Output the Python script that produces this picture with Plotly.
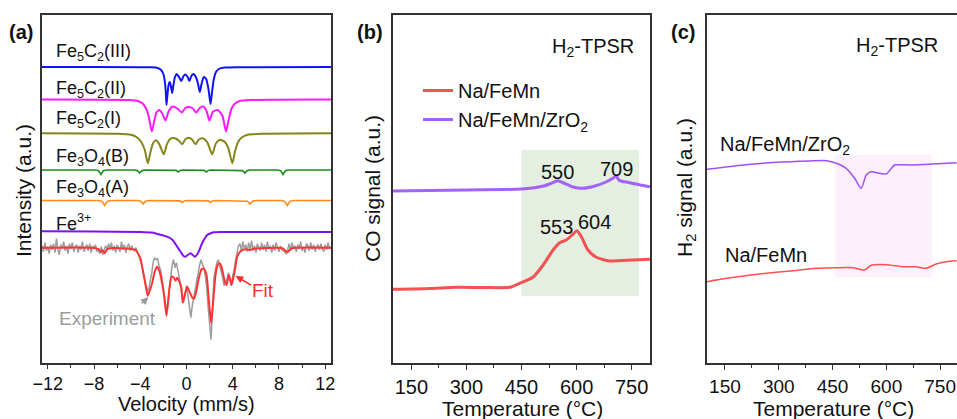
import plotly.graph_objects as go

FONT = "Liberation Sans, Arial, sans-serif"

# ---------------- Panel (a): Mossbauer spectrum ----------------
# offsets of each stacked sub-spectrum (a.u.)
off_blue, off_mag, off_olive, off_green, off_orange, off_purple, off_fit = 296, 263.5, 229.7, 193, 162.5, 131, 115.3

blue_v = [-12.5, -3.0, -2.5, -2.2, -2.0, -1.88, -1.8, -1.73, -1.65, -1.55, -1.45, -1.35, -1.24, -1.13, -1.0, -0.85,
          -0.65, -0.45, -0.25, -0.1, 0.1, 0.25, 0.42, 0.6, 0.85, 1.0, 1.15, 1.3, 1.5, 1.7, 1.9, 2.08, 2.2, 2.35,
          2.55, 2.8, 3.3, 4.5, 12.5]
blue_i = [0, -0.3, -1, -3, -7, -14, -24, -38, -28, -18, -15, -19, -26, -18, -10, -7,
          -10, -14, -9, -7.5, -10, -14, -9, -7, -11, -17, -25, -17, -10, -12, -22, -37, -26, -13,
          -5, -2, -0.6, -0.2, 0]

mag_v = [-12.5, -5, -4.2, -3.8, -3.5, -3.25, -3.0, -2.8, -2.6, -2.35, -2.1, -1.82, -1.55, -1.2, -0.8, -0.4, -0.1,
         0.22, 0.55, 0.85, 1.15, 1.45, 1.75, 1.98, 2.3, 2.7, 3.1, 3.42, 3.65, 3.9, 4.2, 4.6, 5.5, 12.5]
mag_i = [0, -0.5, -1.5, -4, -9, -18, -32, -22, -13, -10.5, -14, -21, -12, -7, -9, -13, -8.5,
         -7.5, -9, -13, -8.5, -7, -12, -21, -12, -10.5, -16, -32, -20, -9, -4, -1.5, -0.5, 0]

olive_v = [-12.5, -6, -4.8, -4.3, -3.9, -3.6, -3.35, -3.12, -2.9, -2.65, -2.35, -1.97, -1.7, -1.4, -1.0, -0.65,
           -0.37, -0.1, 0.2, 0.5, 0.78, 1.05, 1.4, 1.8, 2.22, 2.55, 2.9, 3.3, 3.62, 3.96, 4.2, 4.45, 4.8, 5.3,
           6.5, 12.5]
olive_i = [0, -0.5, -1.5, -4, -9, -17, -30, -19, -10, -7, -11, -21, -11, -5.5, -5, -7.5,
           -11, -6, -4.5, -6.5, -11, -6.5, -5, -9, -21, -10, -6.5, -8.5, -15, -30, -18, -9, -4, -1.5,
           -0.5, 0]

green_v = [-12.5, -7.9, -7.6, -7.4, -7.2, -6.9, -4.5, -4.25, -4.05, -3.85, -3.6, -1.15, -0.9, -0.72, -0.54, -0.3,
           1.3, 1.53, 1.71, 1.89, 2.1, 4.6, 4.85, 5.05, 5.25, 5.5, 7.85, 8.15, 8.35, 8.55, 8.85, 12.5]
green_i = [0, 0, -0.8, -4.5, -0.8, 0, 0, -0.6, -3, -0.6, 0, 0, -0.4, -2, -0.4, 0,
           0, -0.4, -2, -0.4, 0, 0, -0.6, -3, -0.6, 0, 0, -0.8, -4.5, -0.8, 0, 0]

orange_v = [-12.5, -7.6, -7.3, -7.08, -6.86, -6.55, -4.2, -3.95, -3.75, -3.55, -3.3, -0.8, -0.55, -0.37, -0.19, 0.05,
            1.65, 1.9, 2.08, 2.26, 2.5, 5.0, 5.27, 5.49, 5.71, 6.0, 8.2, 8.5, 8.72, 8.94, 9.25, 12.5]
orange_i = [0, 0, -0.9, -5, -0.9, 0, 0, -0.7, -3.5, -0.7, 0, 0, -0.4, -2, -0.4, 0,
            0, -0.4, -2, -0.4, 0, 0, -0.7, -3.5, -0.7, 0, 0, -0.9, -5, -0.9, 0, 0]

fe3_v = [-12.5, -8, -4, -3, -2.5, -2.0, -1.67, -1.2, -0.81, -0.5, -0.25, -0.09, 0.1, 0.35, 0.55, 0.72, 0.95,
         1.15, 1.36, 1.6, 1.79, 2.1, 2.37, 3, 12.5]
fe3_i = [0.8, 0.4, 0, -0.6, -2, -3.5, -4.7, -8, -14.7, -20, -24, -24.7, -23, -21.3, -23, -24.7, -22,
         -17, -11, -6, -3, -1.3, -0.3, 0, 0]

fit_v = [-12.5, -8.2, -7.6, -7.4, -7.25, -7.08, -6.85, -6.4, -5.2, -4.7, -4.4, -4.0, -3.7, -3.5, -3.35, -3.15,
         -2.97, -2.75, -2.54, -2.35, -2.2, -2.0, -1.85, -1.73, -1.6, -1.45, -1.3, -1.1, -0.95, -0.8, -0.62, -0.45,
         -0.32, -0.15, 0.06, 0.3, 0.5, 0.65, 0.8, 1.07, 1.3, 1.5, 1.73, 1.95, 2.14, 2.3, 2.51, 2.7, 2.86, 3.05,
         3.24, 3.35, 3.47, 3.6, 3.67, 3.78, 3.9, 4.05, 4.16, 4.39, 4.6, 4.83, 5.2, 5.49, 5.8, 7, 8.3, 8.72, 9.1,
         12.5]
fit_i = [0, 0, -1.5, -4.5, -2.5, -5.5, -1.5, -0.3, -0.8, -1.5, -2.3, -10.3, -27.3, -40, -48, -42,
         -35.3, -24, -19, -23, -30.3, -43, -57, -68, -55, -38, -29, -30, -33, -30, -34, -40,
         -55, -47, -39, -45, -50, -51, -46, -30.3, -21.5, -21, -27.3, -55, -75.6, -55, -27.3, -17, -15.6, -20,
         -30.3, -35, -37.3, -30, -27.3, -32, -37.3, -30, -24, -9, -4.5, -2.3, -1.5, -2.5, -1, -0.3, -0.5, -4.6, -0.5,
         0]

exp_start, exp_step = -12.5, 0.125
exp_i = [2, -4, 5, -3, 1, -6, 3, -2,
         4, -5, 9, -2, -7, 3, -1, 6,
         -3, 2, -6, 4, -1, 5, -4, 1,
         3, -5, 2, -2, 6, -4, 0, 3,
         -3, 4, -5, 2, -1, 3, -4, -2,
         -6, 1, -7, -3, 2, -2, 4, -1,
         5, -3, 2, -5, 3, 0, -4, 6,
         -2, 3, -5, 1, 4, -3, 2, -1,
         -3, 0, -5, -8, -12, -18, -24, -30,
         -38, -44, -40, -33, -25, -14, -10, -12,
         -11, -18, -22, -30, -40, -55, -62, -58,
         -42, -30, -18, -12, -20, -15, -25, -30,
         -38, -50, -55, -45, -38, -48, -60, -70,
         -58, -50, -40, -30, -22, -18, -12, -16,
         -20, -28, -40, -60, -80, -92, -60, -30,
         -22, -15, -12, -18, -22, -30, -38, -35,
         -32, -25, -33, -38, -28, -22, -12, -4,
         2, 4, -3, 6, -1, 3, -4, 5,
         -2, 7, -3, 2, -5, 4, 1, -3,
         5, -2, 3, -4, 6, -1, 2, -5,
         3, -3, 5, 0, -4, 2, -2, -3,
         -5, -6, -2, 4, -3, 5, -1, 2,
         -4, 3, -1, 6, -3, 1, -5, 4,
         2, -3, 5, -2, 3, -4, 1, 3,
         -2, 4, -1, -4, 3, -2, 5, -1,
         1]
exp_v = [exp_start + k * exp_step for k in range(len(exp_i))]

a_labels = ["Fe<sub>5</sub>C<sub>2</sub>(III)", "Fe<sub>5</sub>C<sub>2</sub>(II)", "Fe<sub>5</sub>C<sub>2</sub>(I)",
            "Fe<sub>3</sub>O<sub>4</sub>(B)", "Fe<sub>3</sub>O<sub>4</sub>(A)", "Fe<sup>3+</sup>"]
a_label_y = [310, 273, 243, 206, 175, 141]

# ---------------- Panel (b): CO signal ----------------
b_zr_T = [100, 200, 300, 400, 450, 480, 510, 530, 549, 565, 590, 617, 650, 680, 700, 708, 715, 725, 735, 760, 800]
b_zr_s = [172, 172.5, 173, 173.5, 174, 175, 177, 179.5, 182.3, 180, 176, 174.7, 177, 181, 185, 187, 183, 181.5, 181, 179, 176.3]
b_fm_T = [100, 200, 272, 350, 418, 445, 481, 509, 536, 554, 572, 590, 601, 613, 631, 654, 690, 753, 800]
b_fm_s = [73.7, 74.5, 75.7, 75.5, 75.7, 79.7, 85.7, 98, 113, 120.3, 123, 128.7, 132.3, 126.3, 113, 105.7, 102, 103, 103.7]
b_peaks_T = [549, 708, 545, 649]
b_peaks_y = [191.3, 193.7, 136.3, 141.3]
b_peaks_txt = ["550", "709", "553", "604"]

# ---------------- Panel (c): H2 signal ----------------
c_zr_T = [99, 201, 294, 386, 433, 461, 488, 511.6, 530, 544, 558, 581, 600, 614, 623, 665, 729, 796]
c_zr_s = [193.7, 198, 200.7, 202, 202.3, 199.7, 194.7, 184.7, 174.7, 188, 191.3, 189.7, 189, 194.7, 198, 198, 199, 200.3]
c_fm_T = [99, 155, 247, 340, 405, 461, 507, 539, 558, 600, 646, 683, 711, 739, 767, 796]
c_fm_s = [81.3, 84.7, 89, 92.3, 94.7, 95.3, 95.3, 93, 97.7, 98.3, 96.3, 96.3, 94.7, 99, 101.3, 102.3]

temp_ticks = [150, 300, 450, 600, 750]
vel_ticks = [-12, -8, -4, 0, 4, 8, 12]

fig = go.Figure()

def add(x, y, color, width, xa, ya, name=None, legend=False, shape="spline", smooth=0.6):
    line = dict(color=color, width=width, shape=shape)
    if shape == "spline":
        line["smoothing"] = smooth
    fig.add_trace(go.Scatter(x=x, y=y, mode="lines", line=line, xaxis=xa, yaxis=ya,
                             name=name, showlegend=legend, hoverinfo="skip"))

# panel a traces
add(blue_v, [off_blue + v for v in blue_i], "#0f14f5", 2, "x", "y")
add(mag_v, [off_mag + v for v in mag_i], "#ff19ff", 2, "x", "y")
add(olive_v, [off_olive + v for v in olive_i], "#85851a", 2, "x", "y")
add(green_v, [off_green + v for v in green_i], "#1e8c1e", 1.6, "x", "y", shape="linear")
add(orange_v, [off_orange + v for v in orange_i], "#ff8c1a", 1.6, "x", "y", shape="linear")
add(fe3_v, [off_purple + v for v in fe3_i], "#7f10f5", 2, "x", "y")
add(exp_v, [off_fit + v for v in exp_i], "#9c9c9c", 1.5, "x", "y", shape="linear")
add(fit_v, [off_fit + v for v in fit_i], "#ff3434", 2, "x", "y", smooth=0.5)

# panel b traces
add(b_fm_T, b_fm_s, "#f25252", 3, "x2", "y2", name="Na/FeMn", legend=True)
add(b_zr_T, b_zr_s, "#a262f5", 3, "x2", "y2", name="Na/FeMn/ZrO<sub>2</sub>", legend=True)

# panel c traces
add(c_zr_T, c_zr_s, "#a050f0", 1.5, "x3", "y3")
add(c_fm_T, c_fm_s, "#ff5050", 1.5, "x3", "y3")

axis_common = dict(showline=True, linecolor="#333", linewidth=1.5, showgrid=False, zeroline=False,
                   ticks="outside", ticklen=5, tickwidth=1.2, tickcolor="#333", ticklabeloverflow="allow",
                   tickfont=dict(family=FONT, size=20, color="#111"))
yaxis_common = dict(showline=True, linecolor="#333", linewidth=1.5, showgrid=False, zeroline=False,
                    ticks="", showticklabels=False, range=[0, 348])

W, H = 957, 419
ybot, ytop = (H - 363) / H, (H - 15) / H

fig.update_layout(
    width=W, height=H, margin=dict(l=0, r=0, t=0, b=0, autoexpand=False),
    paper_bgcolor="white", plot_bgcolor="white",
    font=dict(family=FONT, size=20, color="#111"),
    xaxis=dict(axis_common, domain=[42 / W, 331 / W], range=[-12.5, 12.5], tickvals=vel_ticks,
               ticklen=4, tickfont=dict(family=FONT, size=18, color="#111"),
               minor=dict(dtick=2, ticks="outside", ticklen=3, tickcolor="#333"), mirror=True, anchor="y"),
    yaxis=dict(yaxis_common, domain=[ybot, ytop], mirror=True, anchor="x"),
    xaxis2=dict(axis_common, domain=[393 / W, 650 / W], range=[100, 800], tickvals=temp_ticks,
                minor=dict(dtick=75, tick0=0, ticks="outside", ticklen=3, tickcolor="#333"), mirror=True, anchor="y2"),
    yaxis2=dict(yaxis_common, domain=[ybot, ytop], mirror=True, anchor="x2"),
    xaxis3=dict(axis_common, domain=[707 / W, 1.0], range=[100, 797], tickvals=temp_ticks,
                tickfont=dict(family=FONT, size=19, color="#111"),
                minor=dict(dtick=75, tick0=0, ticks="outside", ticklen=3, tickcolor="#333"), mirror=True, anchor="y3"),
    yaxis3=dict(yaxis_common, domain=[ybot, ytop], mirror=False, anchor="x3"),
    legend=dict(x=418 / W, xanchor="left", y=(H - 71) / H, yanchor="top", bgcolor="rgba(0,0,0,0)",
                font=dict(family=FONT, size=20, color="#111"), tracegroupgap=0),
    showlegend=True,
)

# shaded regions
fig.add_shape(type="rect", xref="x2", yref="y2", x0=450, x1=770, y0=67, y1=213,
              fillcolor="#e4efe1", line=dict(width=0), layer="below")
fig.add_shape(type="rect", xref="x3", yref="y3", x0=457, x1=728, y0=86, y1=208,
              fillcolor="#fcf0fc", line=dict(width=0), layer="below")

ann = []
def note(text, x, y, xref, yref, size=20, color="#111", xanchor="center", yanchor="middle", **kw):
    ann.append(dict(text=text, x=x, y=y, xref=xref, yref=yref, xanchor=xanchor, yanchor=yanchor,
                    showarrow=False, font=dict(family=FONT, size=size, color=color), **kw))

for t, yy in zip(a_labels, a_label_y):
    note(t, -11.5, yy, "x", "y", size=18, xanchor="left")
note("Experiment", -6.85, 45, "x", "y", size=19, color="#9c9c9c")
ann.append(dict(text="", x=-3.3, y=66, xref="x", yref="y", showarrow=True, ax=-8, ay=8,
                arrowcolor="#9c9c9c", arrowwidth=1.5, arrowhead=2, arrowsize=1))
note("Fit", 6.6, 73, "x", "y", size=19, color="#ff2a2a")
ann.append(dict(text="", x=4.25, y=87, xref="x", yref="y", showarrow=True, ax=17, ay=10,
                arrowcolor="#ff2a2a", arrowwidth=1.5, arrowhead=2, arrowsize=1))

for t, yy, tx in zip(b_peaks_txt, b_peaks_y, b_peaks_T):
    note(t, tx, yy, "x2", "y2")
note("H<sub>2</sub>-TPSR", 763, 315, "x2", "y2", xanchor="right")
note("H<sub>2</sub>-TPSR", 631, 316, "x3", "y3")
note("Na/FeMn/ZrO<sub>2</sub>", 130, 218, "x3", "y3", xanchor="left")
note("Na/FeMn", 144, 108, "x3", "y3", xanchor="left")

# panel letters
for t, px in zip(["(a)", "(b)", "(c)"], [21, 370, 683]):
    note("<b>" + t + "</b>", px / W, (H - 32) / H, "paper", "paper", size=20)
# axis titles
for t, px, py in zip(["Intensity (a.u.)", "CO signal (a.u.)", "H<sub>2</sub> signal (a.u.)"],
                     [23, 372, 686], [191, 189, 188]):
    note(t, px / W, (H - py) / H, "paper", "paper", size=21, textangle=-90)
for t, px, py, sz in zip(["Velocity (mm/s)", "Temperature (°C)", "Temperature (°C)"],
                         [186.5, 522, 833], [404, 408, 408], [20, 21, 21]):
    note(t, px / W, (H - py) / H, "paper", "paper", size=sz)

fig.update_layout(annotations=ann)
fig.write_html("out.html")
